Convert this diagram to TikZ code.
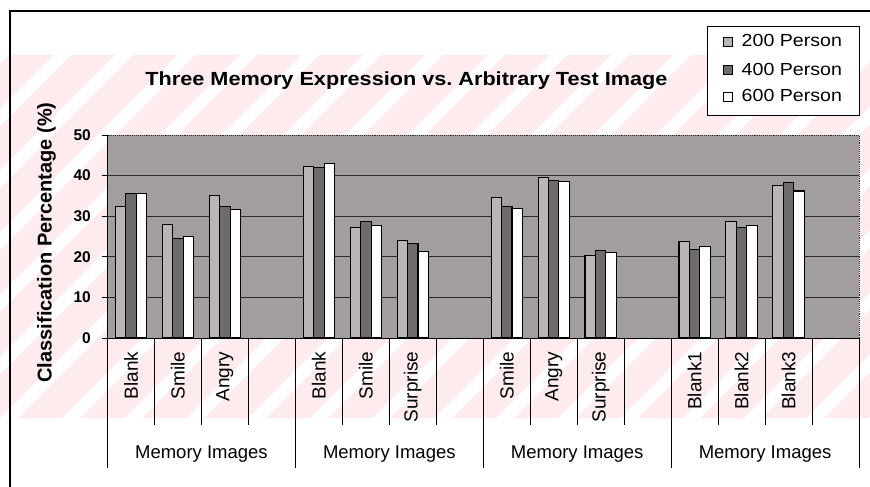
\documentclass[tikz,border=0pt]{standalone}
\usepackage{fontspec}
\setmainfont{Liberation Sans}
\definecolor{plotbg}{HTML}{A29D9E}
\definecolor{barA}{HTML}{BAB5B6}
\definecolor{barB}{HTML}{6F6A6B}
\definecolor{gridc}{HTML}{2A2A2A}
\definecolor{wmpink}{HTML}{FDEBEE}
\tikzset{
  framel/.style={line width=1.1pt, black},
  barbase/.style={draw=black, line width=1.1pt},
  barone/.style={barbase, fill=barA},
  bartwo/.style={barbase, fill=barB},
  barthree/.style={barbase, fill=white},
  gridl/.style={gridc, line width=0.9pt},
  sepl/.style={black, line width=0.9pt},
  ticklab/.style={anchor=east, inner sep=0pt, font=\fontsize{15.5}{17}\selectfont\bfseries},
  catlab/.style={rotate=90, anchor=east, inner sep=0pt, font=\fontsize{19}{21}\selectfont},
  grouplab/.style={anchor=center, inner sep=0pt, font=\fontsize{18.5}{21}\selectfont},
  legtext/.style={anchor=base west, inner sep=0pt, font=\fontsize{17.5}{20}\selectfont},
  legmark/.style={draw=black, line width=1pt}
}
\frenchspacing
\begin{document}
\begin{tikzpicture}[x=1pt,y=-1pt]
\useasboundingbox (0,0) rectangle (870,487);
\fill[white] (0,0) rectangle (870,487);
% watermark tint (background)
\begin{scope}
  \clip (0,55) rectangle (870,418);
  \foreach \i in {-7,...,15}{
    \fill[wmpink] ({\i*62+18},418) -- ({\i*62+62},418) -- ({\i*62+62+363},55) -- ({\i*62+18+363},55) -- cycle;
  }
\end{scope}
% outer frame (partially visible)
\draw[framel] (10,487) -- (10,11) -- (870,11);
% title
\node[anchor=base, inner sep=0pt, font=\fontsize{19}{22}\selectfont\bfseries] (title) at (406.5,85)
  {\scalebox{1.14}[1]{Three Memory Expression vs. Arbitrary Test Image}};
% legend
\fill[white] (707,27) rectangle (859,115);
\draw[line width=1pt] (707,27) rectangle (859,115);
\draw[legmark, fill=barA] (723,38) rectangle (732,47);
\draw[legmark, fill=barB] (723,66) rectangle (732,75);
\draw[legmark, fill=white] (723,92.5) rectangle (732,101.5);
\node[legtext] (l1) at (741.5,46.7) {\scalebox{1.12}[1]{200 Person}};
\node[legtext] (l2) at (741.5,75) {\scalebox{1.12}[1]{400 Person}};
\node[legtext] (l3) at (741.5,101.7) {\scalebox{1.12}[1]{600 Person}};
% y label
\node[rotate=90, inner sep=0pt, font=\fontsize{20}{22}\selectfont\bfseries] (ylab) at (46.5,242.5)
  {Classification Percentage (\%)};
% plot area
\def\xl{107.5}\def\xr{859}\def\yb{338}\def\k{4.06}\def\sw{46.97}\def\bw{10.44}\def\go{7.83}
\fill[plotbg] (\xl,135) rectangle (\xr,\yb);
\foreach \v in {10,20,30,40}{
  \draw[gridl] (\xl,{\yb-\k*\v}) -- (\xr,{\yb-\k*\v});
}
\draw[gridc, line width=0.9pt, densely dotted] (\xl,135) -- (\xr,135) -- (\xr,\yb);
\draw[black, line width=1pt] (\xl,135) -- (\xl,\yb) -- (\xr,\yb);
\foreach \v in {0,10,20,30,40,50}{
  \draw[black, line width=0.9pt] (101.5,{\yb-\k*\v}) -- (\xl,{\yb-\k*\v});
  \node[ticklab] at (91,{\yb-\k*\v}) {\v};
}
% bars
\foreach \s/\a/\b/\c in {0/32.5/35.6/35.6, 1/28.0/24.4/25.0, 2/35.0/32.3/31.6,
  4/42.2/42.0/43.0, 5/27.3/28.6/27.6, 6/24.1/23.2/21.4,
  8/34.7/32.3/31.9, 9/39.5/38.7/38.5, 10/20.3/21.6/21.1,
  12/23.7/21.8/22.5, 13/28.7/27.3/27.6, 14/37.5/38.3/36.2}{
  \pgfmathsetmacro{\xo}{\xl+\s*\sw+\go}
  \draw[barone] (\xo,\yb) rectangle ({\xo+\bw},{\yb-\k*\a});
  \draw[bartwo] ({\xo+\bw},\yb) rectangle ({\xo+2*\bw},{\yb-\k*\b});
  \draw[barthree] ({\xo+2*\bw},\yb) rectangle ({\xo+3*\bw},{\yb-\k*\c});
}
% category table
\foreach \i in {1,2,3,5,6,7,9,10,11,13,14,15}{
  \draw[sepl] ({\xl+\i*\sw},\yb) -- ({\xl+\i*\sw},425);
}
\foreach \i in {0,4,8,12,16}{
  \draw[sepl] ({\xl+\i*\sw},\yb) -- ({\xl+\i*\sw},468);
}
\foreach \s/\t in {0/Blank,1/Smile,2/Angry,4/Blank,5/Smile,6/Surprise,
  8/Smile,9/Angry,10/Surprise,12/Blank1,13/Blank2,14/Blank3}{
  \node[catlab] (c\s) at ({\xl+(\s+0.5)*\sw},351.5) {\t};
}
\foreach \g in {0,1,2,3}{
  \node[grouplab] (g\g) at ({\xl+(4*\g+2)*\sw},454) {Memory Images};
}
\end{tikzpicture}
\end{document}
